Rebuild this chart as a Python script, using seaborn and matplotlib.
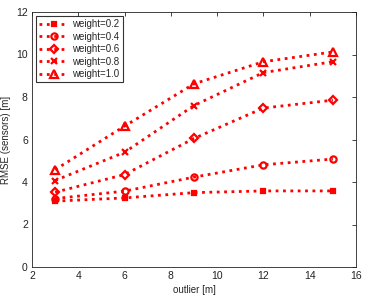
import matplotlib
matplotlib.use("Agg")
import matplotlib.pyplot as plt
import seaborn as sns
import pandas as pd

outlier = [3, 6, 9, 12, 15]
w02 = [3.10, 3.25, 3.50, 3.58, 3.58]
w04 = [3.22, 3.57, 4.23, 4.81, 5.08]
w06 = [3.52, 4.35, 6.05, 7.48, 7.85]
w08 = [4.07, 5.40, 7.60, 9.15, 9.66]
w10 = [4.58, 6.63, 8.62, 9.66, 10.12]
labels = ["weight=0.2", "weight=0.4", "weight=0.6", "weight=0.8", "weight=1.0"]
series = [w02, w04, w06, w08, w10]
markers = ["s", "o", "D", "x", "^"]
msizes = [3.5, 4.5, 4, 4.5, 5.5]

sns.set_style("white")
plt.rcParams['font.family'] = ['Liberation Sans', 'DejaVu Sans']

fig = plt.figure(figsize=(3.66, 2.95), dpi=100)
ax = fig.add_axes([32/366, 1-267/295, (356-32)/366, (267-12)/295])

for lab, vals, m, ms in zip(labels, series, markers, msizes):
    df = pd.DataFrame({"outlier": outlier, "rmse": vals})
    sns.lineplot(data=df, x="outlier", y="rmse", ax=ax, color="#ff0000",
                 linestyle=":", linewidth=2, marker=m, markersize=ms,
                 markerfacecolor="none" if m not in ("x", "s") else "#ff0000",
                 markeredgecolor="#ff0000", markeredgewidth=1.6, label=lab)

ax.set_xlim(2, 16)
ax.set_ylim(0, 12)
ax.set_xticks(range(2, 17, 2))
ax.set_yticks(range(0, 13, 2))
ax.set_xlabel("outlier [m]", fontsize=7, labelpad=3)
ax.set_ylabel("RMSE (sensors) [m]", fontsize=7, labelpad=4)
ax.tick_params(direction="in", length=3, labelsize=7.5, top=True, right=True,
               width=0.6, pad=3, colors="#222222")
for s in ax.spines.values():
    s.set_linewidth(0.6)
    s.set_color("#222222")
leg = ax.legend(loc="upper left", fontsize=7, frameon=True, fancybox=False,
                edgecolor="black", handlelength=3.0, borderpad=0.35,
                labelspacing=0.25, handletextpad=0.4, borderaxespad=0.4)
leg.get_frame().set_linewidth(0.8)
fig.savefig("out.png", dpi=100)
